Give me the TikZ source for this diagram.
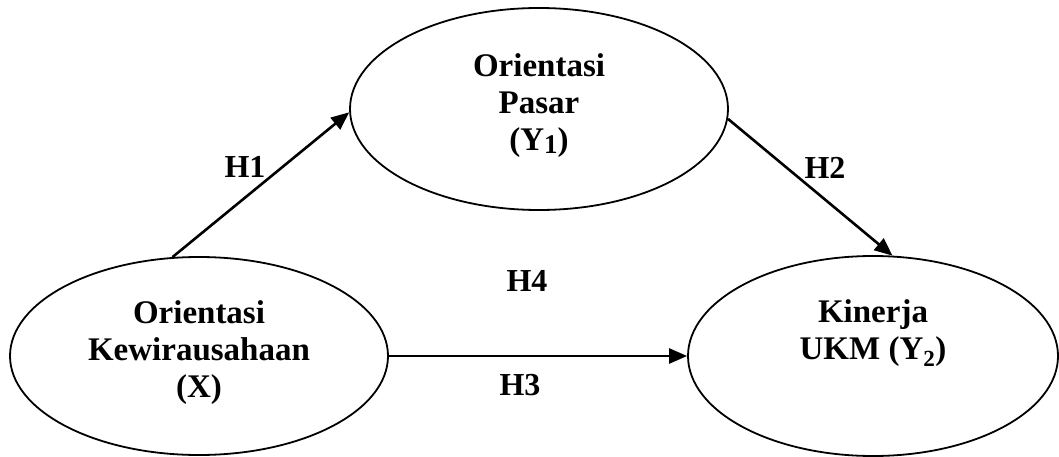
\documentclass[tikz,border=0pt]{standalone}
\usepackage{fontspec}
\setmainfont{Liberation Serif}
\usetikzlibrary{shapes.geometric,arrows.meta}
\tikzset{
  construct/.style={ellipse, draw, line width=1.8pt, inner sep=0pt},
  caption/.style={font=\bfseries\fontsize{33}{37}\selectfont, align=center, inner sep=0pt},
  hyp/.style={font=\bfseries\fontsize{32}{37}\selectfont, inner sep=0pt},
  path/.style={line width=2.6pt, -{Triangle[length=18pt,width=15pt]}}
}
\newcommand{\lowidx}[1]{\raisebox{-3pt}{\fontsize{27}{27}\selectfont #1}}
\begin{document}
\begin{tikzpicture}[x=1pt,y=-1pt]
\useasboundingbox (0,0) rectangle (1059,457);
% constructs
\node[construct, minimum width=378pt, minimum height=202pt] (y1) at (539,109) {};
\node[caption] (y1t) at (539,106) {Orientasi\\Pasar\\(Y\lowidx{1})};
\node[construct, minimum width=378pt, minimum height=198pt] (x) at (199,356) {};
\node[caption] (xt) at (199,353) {Orientasi\\Kewirausahaan\\(X)};
\node[construct, minimum width=370pt, minimum height=200pt] (y2) at (873,356) {};
\node[caption] (y2t) at (873,333) {Kinerja\\UKM (Y\textsubscript{2})};
% hypothesised paths
\draw[path] (x.105) -- (y1.181);
\draw[path] (y1.-3.5) -- (y2.79);
\draw[path] (x.east) -- (y2.west);
% hypothesis labels
\node[hyp] (h1) at (245,167) {H1};
\node[hyp] (h2) at (825,168) {H2};
\node[hyp] (h3) at (520,385) {H3};
\node[hyp] (h4) at (527,281) {H4};
\end{tikzpicture}
\end{document}
